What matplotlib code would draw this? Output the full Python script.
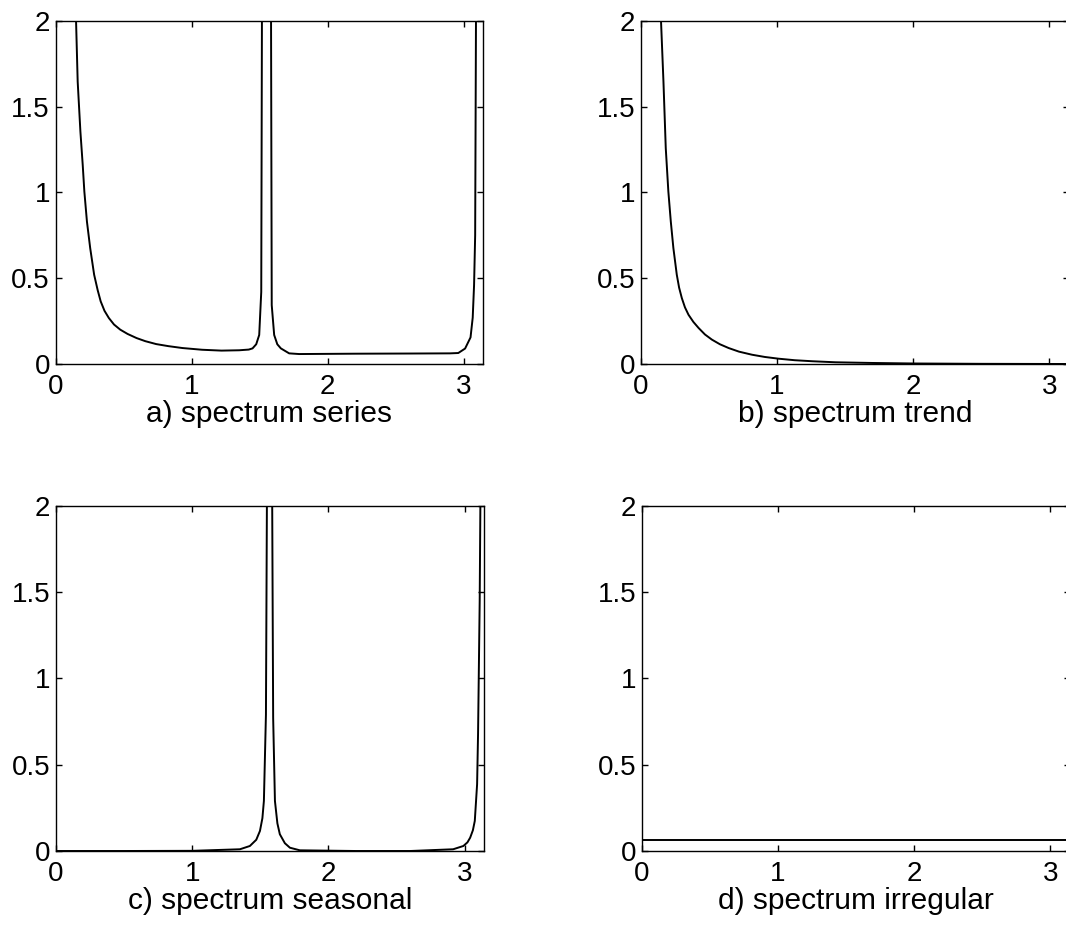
import matplotlib
matplotlib.use('Agg')
import matplotlib.pyplot as plt
import numpy as np

plt.rcParams['font.family'] = ['Liberation Sans', 'DejaVu Sans']

# ---- data ----
x_ticks = [0, 1, 2, 3]
x_tick_labels = ['0', '1', '2', '3']
y_ticks = [0, 0.5, 1, 1.5, 2]
y_tick_labels = ['0', '0.5', '1', '1.5', '2']
x_max = 3.1416
y_max = 2.0

freq_series = [0.135, 0.151, 0.163, 0.183, 0.200, 0.212, 0.231, 0.255, 0.284,
               0.310, 0.332, 0.360, 0.392, 0.430, 0.476, 0.530, 0.596, 0.660,
               0.740, 0.830, 0.933, 1.077, 1.220, 1.350, 1.420, 1.448, 1.475,
               1.497, 1.512, 1.517, 1.552, 1.584, 1.589, 1.607, 1.630, 1.656,
               1.717, 1.790, 2.200, 2.600, 2.900, 2.960, 3.010, 3.050, 3.066,
               3.076, 3.084, 3.090, 3.1416]
spec_series = [2.6, 2.0, 1.645, 1.354, 1.16, 1.005, 0.83, 0.675, 0.52,
               0.43, 0.365, 0.31, 0.268, 0.23, 0.20, 0.175, 0.151, 0.133,
               0.116, 0.104, 0.093, 0.083, 0.078, 0.080, 0.084, 0.091, 0.115,
               0.169, 0.42, 2.0, 8.0, 2.0, 0.343, 0.169, 0.115, 0.091,
               0.062, 0.058, 0.060, 0.061, 0.062, 0.064, 0.09, 0.155, 0.27,
               0.46, 0.75, 2.0, 8.0]

freq_trend = [0.130, 0.147, 0.165, 0.182, 0.201, 0.219, 0.238, 0.263, 0.280,
              0.300, 0.323, 0.349, 0.385, 0.423, 0.470, 0.521, 0.580, 0.644,
              0.720, 0.816, 0.910, 1.010, 1.130, 1.260, 1.430, 1.700, 2.000,
              2.500, 3.1416]
spec_trend = [2.6, 2.0, 1.645, 1.257, 1.005, 0.83, 0.675, 0.52, 0.445,
              0.384, 0.33, 0.287, 0.245, 0.21, 0.172, 0.142, 0.115, 0.093,
              0.072, 0.054, 0.041, 0.031, 0.022, 0.016, 0.010, 0.006, 0.003,
              0.001, 0.0]

freq_seasonal = [0.0, 0.5, 1.0, 1.350, 1.423, 1.470, 1.497, 1.515, 1.526,
                 1.541, 1.548, 1.565, 1.587, 1.594, 1.607, 1.625, 1.643, 1.680,
                 1.717, 1.790, 2.200, 2.600, 2.915, 2.990, 3.020, 3.040, 3.060,
                 3.074, 3.091, 3.098, 3.110, 3.115, 3.1416]
spec_seasonal = [0.0, 0.0, 0.001, 0.010, 0.029, 0.065, 0.116, 0.19, 0.29,
                 0.79, 2.0, 8.0, 2.0, 0.77, 0.29, 0.16, 0.097, 0.045,
                 0.019, 0.004, 0.0, 0.0, 0.010, 0.029, 0.05, 0.077, 0.12,
                 0.174, 0.387, 0.68, 1.45, 2.0, 8.0]

freq_irregular = [0.0, 1.0, 2.0, 3.1416]
spec_irregular = [0.062, 0.062, 0.062, 0.062]

panel_titles = ['a) spectrum series', 'b) spectrum trend',
                'c) spectrum seasonal', 'd) spectrum irregular']

# ---- layout ----
fig = plt.figure(figsize=(10.66, 9.34), dpi=100)
W, H = 1066.0, 934.0
boxes = [
    (55.5, 20.7, 483.0, 364.0),
    (641.0, 20.7, 1068.5, 364.0),
    (56.0, 505.5, 484.0, 851.0),
    (642.0, 505.5, 1069.5, 851.0),
]
series = [(freq_series, spec_series), (freq_trend, spec_trend),
          (freq_seasonal, spec_seasonal), (freq_irregular, spec_irregular)]

FS = 20
for (l, t, r, b), (xs, ys), title in zip(boxes, series, panel_titles):
    ax = fig.add_axes([l / W, 1 - b / H, (r - l) / W, (b - t) / H])
    ax.plot(xs, ys, color='black', lw=1.4)
    ax.set_xlim(0, x_max)
    ax.set_ylim(0, y_max)
    ax.set_xticks(x_ticks)
    ax.set_xticklabels(x_tick_labels)
    ax.set_yticks(y_ticks)
    ax.set_yticklabels(y_tick_labels)
    ax.tick_params(direction='in', length=4, width=1, top=True, right=True,
                   labelsize=FS, colors='black')
    ax.tick_params(axis='x', pad=7)
    ax.tick_params(axis='y', pad=4)
    for s in ax.spines.values():
        s.set_linewidth(1.0)
        s.set_color('black')
    ax.set_xlabel(title, fontsize=21.5, labelpad=0)

fig.savefig('out.png', dpi=100, facecolor='white')
